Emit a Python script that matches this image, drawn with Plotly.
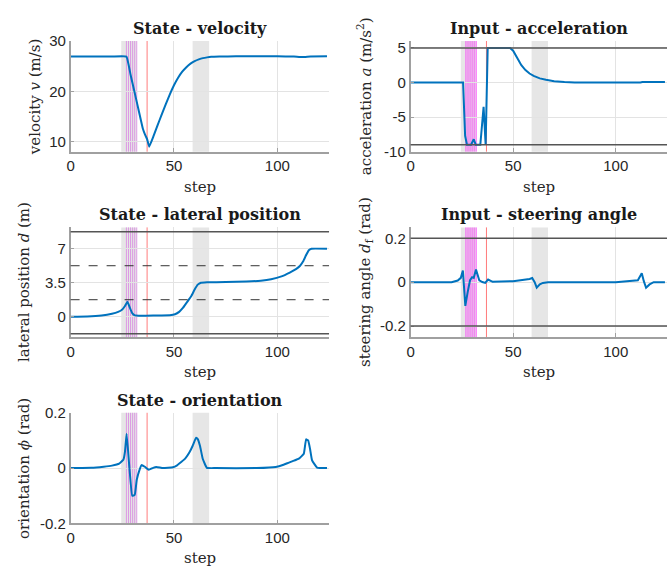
import plotly.graph_objects as go

W, H = 668, 579

# ---------------- data ----------------
v_steps = [0, 10, 20, 27, 29, 31, 33, 35, 36, 37, 38, 40, 42, 44, 46, 48, 50, 52, 54, 56, 58,
           60, 62, 64, 66, 68, 72, 80, 100, 108, 112, 116, 124]
v_vals = [26.9, 26.9, 26.9, 26.9, 23.3, 19.7, 16.1, 12.5, 11.4, 10.5, 9.0, 11.0, 13.2, 15.3, 17.4,
          19.4, 21.2, 22.7, 23.9, 24.8, 25.5, 26.0, 26.35, 26.6, 26.75, 26.85, 26.9, 26.95, 26.95,
          26.9, 26.8, 26.9, 26.95]

a_steps = [0, 25.6, 26.6, 27.5, 29.5, 30.8, 31.8, 34.0, 35.6, 36.6, 37.6, 48.5, 50, 52, 54, 56,
           58, 60, 63, 66, 70, 75, 80, 112, 113, 124]
a_vals = [0, 0, -7.7, -9, -9, -8.2, -9, -9, -3.5, -9, 5, 5, 4.6, 3.5, 2.5, 1.8, 1.3, 0.95, 0.6,
          0.4, 0.2, 0.08, 0.02, 0.0, 0.08, 0.08]

d_steps = [0, 8, 15, 20, 23, 25, 26.3, 27.5, 28.7, 29.8, 31.1, 33, 40, 48, 50.5, 52.5, 54.3, 56.3,
           58.3, 60, 61.5, 63, 66, 75, 85, 92, 97, 102, 106, 109, 111, 112.5, 113.8, 115.2, 116.5, 124]
d_vals = [0, 0.02, 0.12, 0.3, 0.5, 0.75, 1.1, 1.53, 0.9, 0.37, 0.13, 0.1, 0.12, 0.15, 0.25, 0.5,
          0.9, 1.5, 2.1, 2.8, 3.3, 3.5, 3.55, 3.57, 3.62, 3.7, 3.85, 4.15, 4.55, 4.9, 5.25, 5.7,
          6.3, 6.85, 7.0, 7.0]

s_steps = [0, 20, 23, 24.5, 25.5, 26.7, 27.9, 29, 30, 30.8, 31.9, 33.5, 35, 36.4, 37.8, 40, 50,
           55, 58, 59.3, 60.5, 61.5, 63, 64.5, 67, 80, 100, 110.8, 112.7, 113.7, 114.8, 116.5,
           118.5, 124]
s_vals = [0, 0, 0.008, 0.02, 0.053, -0.108, -0.042, 0.009, 0.023, 0.02, 0.058, 0.009, 0.001,
          -0.003, 0.012, 0.002, 0.005, 0.01, 0.015, 0.019, 0.0, -0.025, -0.01, -0.003, 0, 0, 0,
          0.009, 0.041, 0.005, -0.025, -0.01, 0, 0]

o_steps = [0, 10, 16, 20, 23.5, 25.5, 26.3, 27.1, 28.4, 29.8, 31, 32, 33.3, 34.3, 35.9, 37.8,
           39.9, 41.5, 44.7, 49.5, 51.5, 53.5, 55.5, 57.5, 59, 60.7, 61.5, 62.6, 63.9, 65.9, 70,
           90, 99.2, 103, 105.6, 108, 110.4, 112.8, 113.9, 114.9, 115.8, 116.8, 119.2, 124]
o_vals = [0, 0.001, 0.005, 0.009, 0.016, 0.03, 0.06, 0.124, 0.005, -0.1, -0.097, -0.042, -0.007,
          0.011, 0.005, -0.006, 0.001, 0.004, 0.0, 0.003, 0.01, 0.022, 0.035, 0.057, 0.08, 0.11,
          0.105, 0.08, 0.034, 0.001, 0, 0, 0.004, 0.012, 0.02, 0.027, 0.034, 0.052, 0.104, 0.1,
          0.07, 0.028, 0.002, 0]

shade_ranges = [[24.5, 32], [59, 67]]
magenta_steps = [27, 28, 29, 30, 31, 32]
red_step = 37

accel_bounds = [5, -9]
steer_bounds = [0.2, -0.2]
lane_solid = [8.75, -1.75]
lane_dashed = [5.25, 1.75]

panels = [
    # (steps, vals, title, ylabel, yrange, yticks, yticktext, col, row, kind, smooth)
    (v_steps, v_vals, "State - velocity", "velocity <i>v</i> (m/s)", [8, 30],
     [10, 20, 30], ["10", "20", "30"], 0, 0, "state", True),
    (a_steps, a_vals, "Input - acceleration", "acceleration <i>a</i> (m/s<sup>2</sup>)", [-10, 6],
     [-10, -5, 0, 5], ["-10", "-5", "0", "5"], 1, 0, "input", False),
    (d_steps, d_vals, "State - lateral position", "lateral position <i>d</i> (m)", [-2.1, 9.2],
     [0, 3.5, 7], ["0", "3.5", "7"], 0, 1, "state", True),
    (s_steps, s_vals, "Input - steering angle", "steering angle <i>d</i><sub>f</sub> (rad)",
     [-0.25, 0.25], [-0.2, 0, 0.2], ["-0.2", "0", "0.2"], 1, 1, "input", False),
    (o_steps, o_vals, "State - orientation", "orientation <i>ϕ</i> (rad)", [-0.2, 0.2],
     [-0.2, 0, 0.2], ["-0.2", "0", "0.2"], 0, 2, "state", True),
]

# ---------------- layout geometry (pixels) ----------------
col_px = [(67, 327), (409, 667)]
row_px = [(33, 147), (225, 338), (416, 530)]
ylab_x = {(0, 0): 32, (1, 0): 363, (0, 1): 20, (1, 1): 363, (0, 2): 20}

def px(x):
    return x / W

def py(y):
    return 1 - y / H

SERIF = "DejaVu Serif"
SANS = "Liberation Sans"
AXC = "#a0a0a0"
GRID = "#e3e3e3"

fig = go.Figure()
layout = dict(
    width=W, height=H, margin=dict(l=0, r=0, t=0, b=0),
    paper_bgcolor="white", plot_bgcolor="white", showlegend=False,
    font=dict(family=SANS, size=15, color="#262626"),
)
shapes = []
annotations = []

for i, (xs, ys, title, ylab, yr, yt, ytt, c, r, kind, smooth) in enumerate(panels):
    n = "" if i == 0 else str(i + 1)
    xa, ya = "x" + n, "y" + n
    x0p, x1p = col_px[c]
    y0p, y1p = row_px[r]
    layout["xaxis" + n] = dict(
        domain=[px(x0p), px(x1p)], anchor=ya, range=[0, 125],
        tickvals=[0, 50, 100], ticktext=["0", "50", "100"],
        showgrid=True, gridcolor=GRID, gridwidth=1, zeroline=False,
        showline=True, linecolor=AXC, linewidth=1.5,
        ticks="inside", ticklen=4, tickcolor=AXC,
        tickfont=dict(family=SANS, size=15, color="#262626"),
    )
    layout["yaxis" + n] = dict(
        domain=[py(y1p), py(y0p)], anchor=xa, range=yr,
        tickvals=yt, ticktext=ytt,
        showgrid=True, gridcolor=GRID, gridwidth=1, zeroline=False,
        showline=True, linecolor=AXC, linewidth=1.5,
        ticks="inside", ticklen=4, tickcolor=AXC,
        tickfont=dict(family=SANS, size=15, color="#262626"),
    )

    for s0, s1 in shade_ranges:
        shapes.append(dict(type="rect", xref=xa, yref=ya + " domain", x0=s0, x1=s1, y0=0, y1=1,
                           fillcolor="#e6e6e6", line=dict(width=0), layer="below"))
    mcol = "rgba(215,120,225,0.7)" if kind == "state" else "rgba(255,0,255,0.65)"
    for m in magenta_steps:
        shapes.append(dict(type="line", xref=xa, yref=ya + " domain", x0=m, x1=m, y0=0, y1=1,
                           line=dict(color=mcol, width=1), layer="below"))
    shapes.append(dict(type="line", xref=xa, yref=ya + " domain", x0=red_step, x1=red_step,
                       y0=0, y1=1, line=dict(color="rgba(255,90,90,0.8)", width=1), layer="below"))

    if title.startswith("Input - acc"):
        bounds = accel_bounds
    elif title.startswith("Input - steer"):
        bounds = steer_bounds
    elif "lateral" in title:
        bounds = lane_solid
    else:
        bounds = []
    for b in bounds:
        shapes.append(dict(type="line", xref=xa + " domain", yref=ya, x0=0, x1=1, y0=b, y1=b,
                           line=dict(color="#555555", width=1.5), layer="above"))
    if "lateral" in title:
        for b in lane_dashed:
            shapes.append(dict(type="line", xref=xa + " domain", yref=ya, x0=0, x1=1, y0=b, y1=b,
                               line=dict(color="#333333", width=1, dash="dash"), layer="above"))

    line = dict(color="#0072BD", width=2)
    if smooth:
        line.update(shape="spline", smoothing=0.3)
    fig.add_trace(go.Scatter(x=xs, y=ys, xaxis=xa, yaxis=ya, mode="lines",
                             line=line, hoverinfo="skip"))

    annotations.append(dict(text="<b>" + title + "</b>", xref="paper", yref="paper",
                            x=px((x0p + x1p) / 2), y=py(y0p - 13), xanchor="center",
                            yanchor="middle", showarrow=False,
                            font=dict(family=SERIF, size=16, color="#1a1a1a")))
    annotations.append(dict(text="step", xref="paper", yref="paper",
                            x=px((x0p + x1p) / 2), y=py(y1p + 36), xanchor="center",
                            yanchor="middle", showarrow=False,
                            font=dict(family=SERIF, size=15, color="#262626")))
    annotations.append(dict(text=ylab, xref="paper", yref="paper", textangle=-90,
                            x=px(ylab_x[(c, r)]), y=py((y0p + y1p) / 2), xanchor="center",
                            yanchor="middle", showarrow=False,
                            font=dict(family=SERIF, size=15, color="#262626")))

layout["shapes"] = shapes
layout["annotations"] = annotations
fig.update_layout(**layout)
fig.write_html("out.html", config={"displayModeBar": False},
               post_script="document.body.style.margin='0';document.body.style.overflow='hidden';")
